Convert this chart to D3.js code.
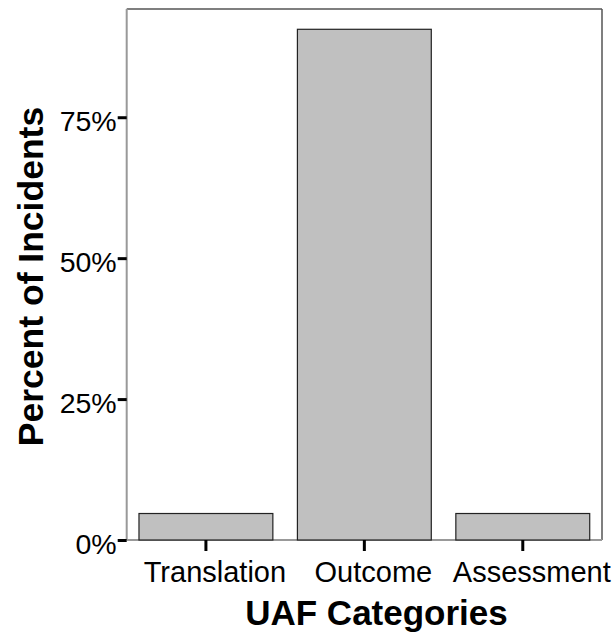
<!DOCTYPE html>
<html>
<head>
<meta charset="utf-8">
<script src="https://cdn.jsdelivr.net/npm/d3@7"></script>
<style>
  body { margin: 0; background: #fff; }
  svg { display: block; }
  text { font-family: "Liberation Sans", Arial, sans-serif; }
</style>
</head>
<body>
<svg id="chart" width="616" height="632"></svg>
<script>
const categories = ["Translation", "Outcome", "Assessment"];
const percents = [4.7, 90.6, 4.7];
const yTicks = [0, 25, 50, 75];
const yMax = 94.2;

(function () {
const svg = d3.select("#chart");
const pLeft = 126.7, pRight = 602, pTop = 9, pBottom = 540;

const x = d3.scaleBand().domain(categories).range([pLeft, pRight])
  .paddingInner(0.155).paddingOuter(0.0775);
const y = d3.scaleLinear().domain([0, yMax]).range([pBottom, pTop]);

// plot frame: top/right dark, left/bottom light
svg.append("line").attr("x1", pLeft).attr("x2", pRight).attr("y1", pTop).attr("y2", pTop)
  .attr("stroke", "#555").attr("stroke-width", 1.5);
svg.append("line").attr("x1", pRight).attr("x2", pRight).attr("y1", pTop).attr("y2", pBottom)
  .attr("stroke", "#555").attr("stroke-width", 1.5);
svg.append("line").attr("x1", pLeft).attr("x2", pLeft).attr("y1", pTop).attr("y2", pBottom)
  .attr("stroke", "#999").attr("stroke-width", 2);
svg.append("line").attr("x1", pLeft).attr("x2", pRight).attr("y1", pBottom).attr("y2", pBottom)
  .attr("stroke", "#999").attr("stroke-width", 2);

// bars
svg.selectAll("rect.bar").data(categories).join("rect")
  .attr("class", "bar")
  .attr("x", d => x(d))
  .attr("width", x.bandwidth())
  .attr("y", (d, i) => y(percents[i]))
  .attr("height", (d, i) => y(0) - y(percents[i]))
  .attr("fill", "#c0c0c0")
  .attr("stroke", "#222")
  .attr("stroke-width", 1.2);

// y axis
const yAxis = d3.axisLeft(y).tickValues(yTicks).tickFormat(d => d + "%")
  .tickSize(9).tickSizeOuter(0).tickPadding(1);
const gy = svg.append("g").attr("transform", `translate(${pLeft},0)`).call(yAxis);
gy.select(".domain").remove();
gy.selectAll(".tick line").attr("stroke", "#000").attr("stroke-width", 3);
gy.selectAll(".tick text").attr("font-size", 28.5).attr("fill", "#000")
  .attr("font-family", "'Liberation Sans', Arial, sans-serif").attr("dy", "0.46em");

// x axis
const xAxis = d3.axisBottom(x).tickSize(11).tickSizeOuter(0).tickPadding(10);
const gx = svg.append("g").attr("transform", `translate(0,${pBottom})`).call(xAxis);
gx.select(".domain").remove();
gx.selectAll(".tick line").attr("stroke", "#000").attr("stroke-width", 3);
gx.selectAll(".tick text").attr("font-size", 29).attr("fill", "#000")
  .attr("font-family", "'Liberation Sans', Arial, sans-serif")
  .attr("dx", 9).attr("dy", "0.71em");

// axis titles
svg.append("text").attr("x", 376.5).attr("y", 625).attr("text-anchor", "middle")
  .attr("font-size", 35).attr("font-weight", "bold").attr("fill", "#000")
  .text("UAF Categories");
svg.append("text").attr("transform", "translate(43,276.5) rotate(-90)")
  .attr("text-anchor", "middle")
  .attr("font-size", 35.5).attr("font-weight", "bold").attr("fill", "#000")
  .text("Percent of Incidents");
})();
</script>
</body>
</html>
